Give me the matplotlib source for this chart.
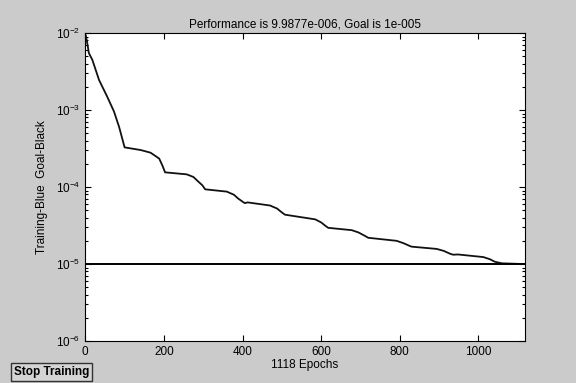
import matplotlib
matplotlib.use("Agg")
import matplotlib.pyplot as plt
from matplotlib.ticker import LogLocator, FixedLocator

plt.rcParams['font.family'] = ['Liberation Sans', 'DejaVu Sans']
plt.rcParams['mathtext.fontset'] = 'custom'
plt.rcParams['mathtext.rm'] = 'Liberation Sans'
plt.rcParams['mathtext.it'] = 'Liberation Sans'

# Data
epochs = [0, 1, 5, 9, 18, 35, 56, 73, 86, 100, 141, 166, 188, 196, 203,
          258, 275, 288, 298, 305,
          360, 378, 389, 400, 406, 413,
          470, 488, 500, 508,
          585, 600, 610, 618,
          678, 695, 710, 720,
          792, 810, 825, 830,
          894, 912, 928, 936, 948,
          1013, 1030, 1042, 1060, 1118]
performance = [9.55e-3, 9.42e-3, 7.41e-3, 5.50e-3, 4.47e-3, 2.45e-3, 1.48e-3, 9.55e-4,
               6.03e-4, 3.27e-4, 3.02e-4, 2.79e-4, 2.34e-4, 1.91e-4, 1.55e-4,
               1.46e-4, 1.35e-4, 1.17e-4, 1.05e-4, 9.33e-5,
               8.71e-5, 7.94e-5, 7.08e-5, 6.46e-5, 6.17e-5, 6.31e-5,
               5.75e-5, 5.25e-5, 4.68e-5, 4.37e-5,
               3.80e-5, 3.47e-5, 3.16e-5, 2.95e-5,
               2.75e-5, 2.57e-5, 2.34e-5, 2.19e-5,
               2.00e-5, 1.86e-5, 1.72e-5, 1.68e-5,
               1.57e-5, 1.48e-5, 1.36e-5, 1.32e-5, 1.33e-5,
               1.23e-5, 1.15e-5, 1.07e-5, 1.02e-5, 9.9877e-6]
goal = 1e-5
n_epochs = 1118
x_ticks = [0, 200, 400, 600, 800, 1000]

fig = plt.figure(figsize=(5.76, 3.83), dpi=100)
fig.patch.set_facecolor('#cbcbcb')
ax = fig.add_axes([85.3/576, 1-341/383, (524.7-85.3)/576, (341-33)/383])
ax.set_facecolor('white')

ax.semilogy(epochs, performance, color='#111111', lw=1.3)
ax.plot([0, n_epochs], [goal, goal], color='black', lw=1.4)

ax.set_xlim(0, n_epochs)
ax.set_ylim(1e-6, 1e-2)
ax.xaxis.set_major_locator(FixedLocator(x_ticks))
ax.yaxis.set_major_locator(LogLocator(base=10, numticks=10))
ax.yaxis.set_minor_locator(LogLocator(base=10, subs=range(2, 10), numticks=10))

ax.tick_params(which='both', direction='in', top=True, right=True, labelsize=8.5,
               colors='black', width=0.8)
ax.tick_params(which='major', length=4)
ax.tick_params(which='minor', length=2)
for s in ax.spines.values():
    s.set_color('black')
    s.set_linewidth(0.8)

ax.set_title('Performance is 9.9877e-006, Goal is 1e-005', fontsize=8.5, pad=4)
ax.set_xlabel('1118 Epochs', fontsize=8.5, labelpad=1)
ax.set_ylabel('Training-Blue  Goal-Black', fontsize=8.5, labelpad=6)

fig.text(14/576, 1-372/383, 'Stop Training', fontsize=8.5, fontweight='bold',
         va='center', ha='left',
         bbox=dict(boxstyle='square,pad=0.25', facecolor='#d4d4d4',
                   edgecolor='#333333', linewidth=1))

fig.savefig('out.png', dpi=100, facecolor=fig.get_facecolor())
